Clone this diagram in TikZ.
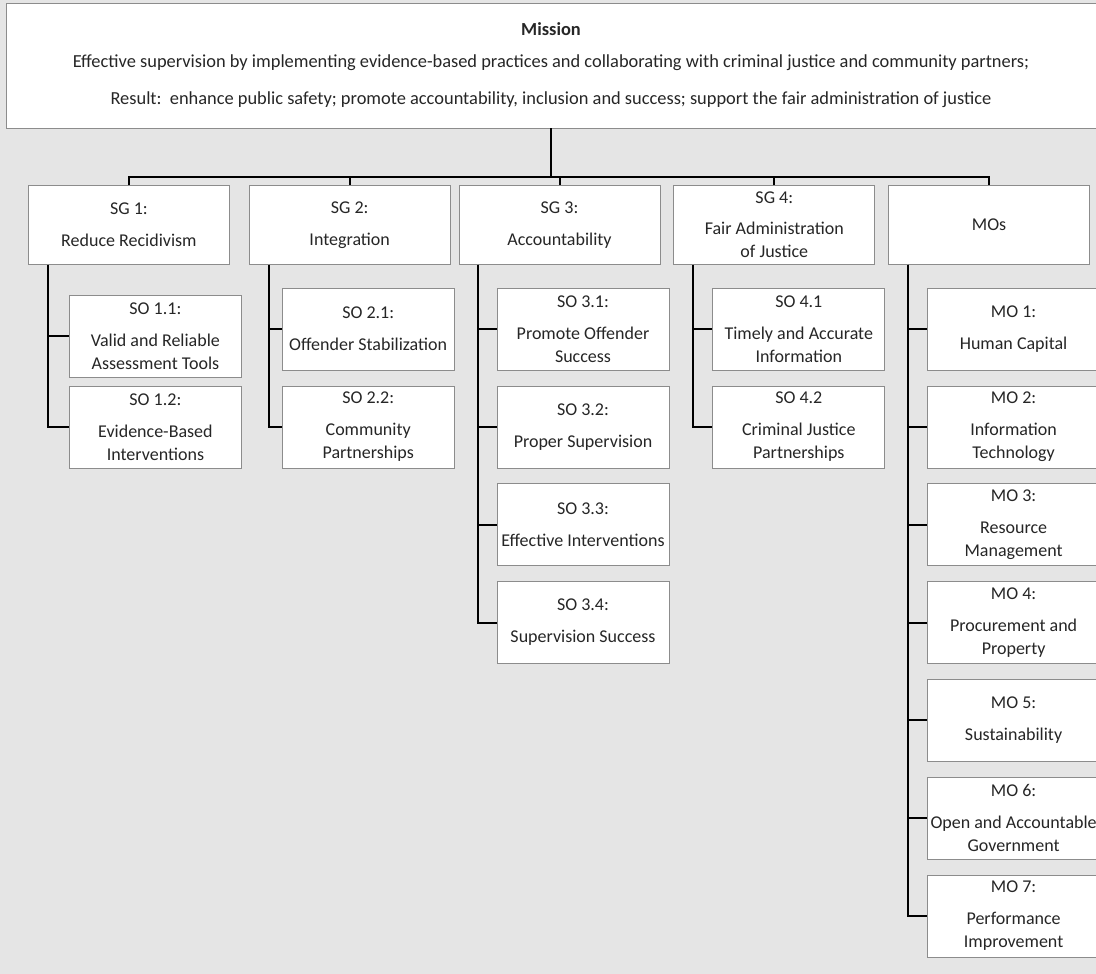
\documentclass[tikz,border=0pt]{standalone}
\usepackage{fontspec}
\setmainfont{Carlito}
\usetikzlibrary{positioning}

\begin{document}
\begin{tikzpicture}[x=1pt, y=1pt, goalbox/.style={draw=black!45, fill=white, line width=0.8pt, minimum width=201pt, minimum height=79pt, inner sep=0pt, align=center, text=black!85, font=\fontsize{18}{23}\selectfont}, objbox/.style={goalbox, minimum width=172pt, minimum height=82pt}, link/.style={line width=2pt}]

    %Background
    \fill[black!10] (0,0) rectangle (1096,-974);
    \useasboundingbox (0,0) rectangle (1096,-974);

    %Nodes
    \node[goalbox, minimum width=1090pt, minimum height=125pt, font=\fontsize{18.4}{23}\selectfont](mission) at (551,-65.5){\textbf{Mission}\\[9pt]Effective supervision by implementing evidence-based practices and collaborating with criminal justice and community partners;\\[14pt]Result:\ \ enhance public safety; promote accountability, inclusion and success; support the fair administration of justice};
    \node[goalbox, anchor=north west](sg1) at (28,-185){SG 1:\\[9pt]Reduce Recidivism};
    \node[goalbox](sg2)[right=19pt of sg1]{SG 2:\\[9pt]Integration};
    \node[goalbox](sg3)[right=8pt of sg2]{SG 3:\\[9pt]Accountability};
    \node[goalbox](sg4)[right=13pt of sg3]{SG 4:\\[8pt]Fair Administration\\of Justice};
    \node[goalbox](mos)[right=13pt of sg4]{MOs};

    \node[objbox](so11)[below right=30pt and 41pt of sg1.south west]{SO 1.1:\\[9pt]Valid and Reliable\\Assessment Tools};
    \node[objbox](so12)[below=8pt of so11]{SO 1.2:\\[9pt]Evidence-Based\\Interventions};

    \node[objbox](so21)[below right=23pt and 33pt of sg2.south west]{SO 2.1:\\[9pt]Offender Stabilization};
    \node[objbox](so22)[below=15pt of so21]{SO 2.2:\\[9pt]Community\\Partnerships};

    \node[objbox](so31)[below right=23pt and 38pt of sg3.south west]{SO 3.1:\\[9pt]Promote Offender\\Success};
    \node[objbox](so32)[below=15pt of so31]{SO 3.2:\\[9pt]Proper Supervision};
    \node[objbox](so33)[below=15pt of so32]{SO 3.3:\\[9pt]Effective Interventions};
    \node[objbox](so34)[below=15pt of so33]{SO 3.4:\\[9pt]Supervision Success};

    \node[objbox](so41)[below right=23pt and 39pt of sg4.south west]{SO 4.1\\[9pt]Timely and Accurate\\Information};
    \node[objbox](so42)[below=15pt of so41]{SO 4.2\\[9pt]Criminal Justice\\Partnerships};

    \node[objbox](mo1)[below right=23pt and 39pt of mos.south west]{MO 1:\\[9pt]Human Capital};
    \node[objbox](mo2)[below=15pt of mo1]{MO 2:\\[9pt]Information\\Technology};
    \node[objbox](mo3)[below=15pt of mo2]{MO 3:\\[9pt]Resource\\Management};
    \node[objbox](mo4)[below=15pt of mo3]{MO 4:\\[9pt]Procurement and\\Property};
    \node[objbox](mo5)[below=15pt of mo4]{MO 5:\\[9pt]Sustainability};
    \node[objbox](mo6)[below=15pt of mo5]{MO 6:\\[9pt]Open and Accountable\\Government};
    \node[objbox](mo7)[below=15pt of mo6]{MO 7:\\[9pt]Performance\\Improvement};

    %Lines
    \coordinate (bus) at ([yshift=8pt]sg1.north);
    \draw[link] (mission.south) -- (mission.south |- bus);
    \draw[link] (sg1.north) -- (bus) -| (mos.north);
    \draw[link] (sg2.north) -- (sg2.north |- bus);
    \draw[link] (sg3.north) -- (sg3.north |- bus);
    \draw[link] (sg4.north) -- (sg4.north |- bus);

    \coordinate (sp1) at ([xshift=20pt]sg1.south west);
    \coordinate (sp2) at ([xshift=20pt]sg2.south west);
    \coordinate (sp3) at ([xshift=19pt]sg3.south west);
    \coordinate (sp4) at ([xshift=20pt]sg4.south west);
    \coordinate (sp5) at ([xshift=20pt]mos.south west);
    \draw[link] (sp1) |- (so11.west);
    \draw[link] (sp1) |- (so12.west);
    \draw[link] (sp2) |- (so21.west);
    \draw[link] (sp2) |- (so22.west);
    \draw[link] (sp3) |- (so31.west);
    \draw[link] (sp3) |- (so32.west);
    \draw[link] (sp3) |- (so33.west);
    \draw[link] (sp3) |- (so34.west);
    \draw[link] (sp4) |- (so41.west);
    \draw[link] (sp4) |- (so42.west);
    \draw[link] (sp5) |- (mo1.west);
    \draw[link] (sp5) |- (mo2.west);
    \draw[link] (sp5) |- (mo3.west);
    \draw[link] (sp5) |- (mo4.west);
    \draw[link] (sp5) |- (mo5.west);
    \draw[link] (sp5) |- (mo6.west);
    \draw[link] (sp5) |- (mo7.west);

\end{tikzpicture}
\end{document}
